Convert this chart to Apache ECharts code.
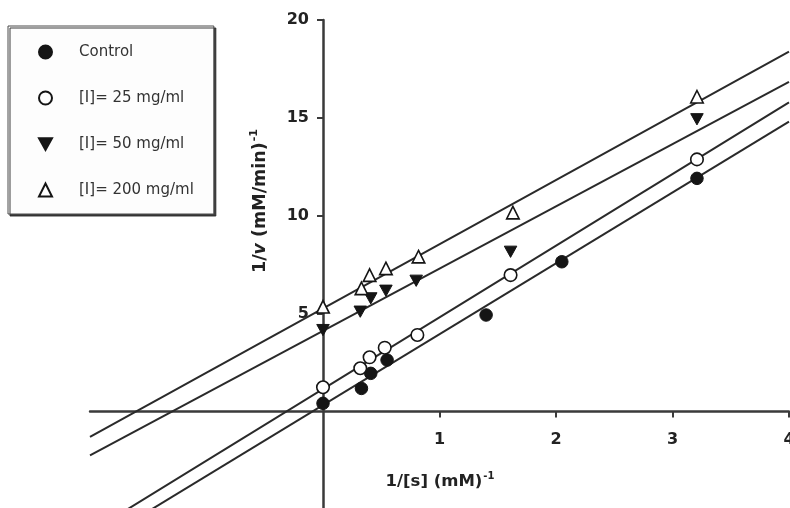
<!DOCTYPE html>
<html>
<head>
<meta charset="utf-8">
<script src="https://cdn.jsdelivr.net/npm/echarts@6/dist/echarts.min.js"></script>
<style>
  html, body { margin: 0; padding: 0; background: #fff; }
  #chart { width: 790px; height: 508px; }
</style>
</head>
<body>
<div id="chart"></div>
<script>
// Lineweaver-Burk data: 1/[S] (mM^-1) and 1/v ((mM/min)^-1) per inhibitor level
const seriesNames = ['Control', '[I]= 25 mg/ml', '[I]= 50 mg/ml', '[I]= 200 mg/ml'];

const xControl = [0, 0.33, 0.41, 0.55, 1.40, 2.05, 3.21];
const yControl = [0.42, 1.18, 1.95, 2.63, 4.93, 7.65, 11.91];

const x25 = [0, 0.32, 0.40, 0.53, 0.81, 1.61, 3.21];
const y25 = [1.24, 2.21, 2.77, 3.26, 3.91, 6.97, 12.88];

const x50 = [0, 0.32, 0.41, 0.54, 0.80, 1.61, 3.21];
const y50 = [4.16, 5.10, 5.78, 6.17, 6.68, 8.16, 14.93];

const x200 = [0, 0.33, 0.40, 0.54, 0.82, 1.63, 3.21];
const y200 = [5.35, 6.29, 6.97, 7.31, 7.91, 10.16, 16.08];

// fitted straight lines: 1/v = slope * 1/[S] + intercept
const fitSlope = [3.62, 3.66, 3.18, 3.28];
const fitIntercept = [0.33, 1.15, 4.12, 5.27];

// axis ranges and labelled ticks
const xRange = [-2, 4];
const yRange = [-5, 20];
const xTicks = [1, 2, 3, 4];
const yTicks = [5, 10, 15, 20];

const xs = [xControl, x25, x50, x200];
const ys = [yControl, y25, y50, y200];

// plot area in pixels
const gridLeft = 90, gridTop = 20, gridWidth = 699, gridHeight = 489.4;
// shift each axis from the plot edge onto the other axis's zero
const xAxisOffset = -gridHeight * (0 - yRange[0]) / (yRange[1] - yRange[0]);
const yAxisOffset = -gridWidth * (0 - xRange[0]) / (xRange[1] - xRange[0]);

const ink = '#151515';
const downTriangle = 'path://M0,0L20,0L10,18Z';
const markerDefs = [
  { symbol: 'circle', itemStyle: { color: ink, borderColor: ink, borderWidth: 1, opacity: 1 } },
  { symbol: 'circle', itemStyle: { color: '#ffffff', borderColor: ink, borderWidth: 1.6, opacity: 1 } },
  { symbol: downTriangle, itemStyle: { color: ink, borderColor: ink, borderWidth: 1, opacity: 1 } },
  { symbol: 'triangle', itemStyle: { color: '#ffffff', borderColor: ink, borderWidth: 1.6, opacity: 1 } }
];

const series = [];
// regression lines first so the markers sit on top
fitSlope.forEach(function (m, i) {
  const b = fitIntercept[i];
  series.push({
    type: 'line',
    name: 'fit' + i,
    data: [[xRange[0], m * xRange[0] + b], [xRange[1], m * xRange[1] + b]],
    showSymbol: false,
    symbol: 'none',
    clip: true,
    silent: true,
    lineStyle: { color: '#2a2a2a', width: 2 },
    z: 2
  });
});
seriesNames.forEach(function (name, i) {
  series.push({
    type: 'scatter',
    name: name,
    data: xs[i].map(function (x, k) { return [x, ys[i][k]]; }),
    symbol: markerDefs[i].symbol,
    symbolSize: 12.5,
    symbolKeepAspect: true,
    itemStyle: markerDefs[i].itemStyle,
    emphasis: { disabled: true },
    z: 5
  });
});

const tickFont = { fontFamily: 'DejaVu Sans', fontWeight: 'bold', fontSize: 16, color: '#222' };
const axisLineStyle = { color: '#3a3a3a', width: 2.5 };

const chart = echarts.init(document.getElementById('chart'), null, { renderer: 'canvas' });
chart.setOption({
  animation: false,
  backgroundColor: '#ffffff',
  grid: {
    left: gridLeft, top: gridTop, width: gridWidth, height: gridHeight,
    containLabel: false, outerBoundsMode: 'none'
  },
  xAxis: {
    type: 'value',
    min: xRange[0],
    max: xRange[1],
    position: 'bottom',
    offset: xAxisOffset,
    splitLine: { show: false },
    axisLine: { show: true, onZero: false, lineStyle: axisLineStyle },
    axisTick: { show: true, customValues: xTicks, length: 6, lineStyle: { color: '#3a3a3a', width: 2 } },
    axisLabel: Object.assign({ customValues: xTicks, margin: 20 }, tickFont)
  },
  yAxis: {
    type: 'value',
    min: yRange[0],
    max: yRange[1],
    position: 'left',
    offset: yAxisOffset,
    splitLine: { show: false },
    axisLine: { show: true, onZero: false, lineStyle: axisLineStyle },
    axisTick: { show: true, customValues: yTicks, length: 6, lineStyle: { color: '#3a3a3a', width: 2 } },
    axisLabel: Object.assign({ customValues: yTicks, margin: 14 }, tickFont)
  },
  legend: {
    data: seriesNames,
    orient: 'vertical',
    left: 8,
    top: 26,
    padding: [18, 20, 16, 30],
    itemGap: 30,
    itemWidth: 13,
    itemHeight: 13,
    backgroundColor: '#fdfdfd',
    borderColor: '#4a4a4a',
    borderWidth: 1,
    shadowColor: 'rgba(40,40,40,0.9)',
    shadowOffsetX: 2,
    shadowOffsetY: 2,
    shadowBlur: 0,
    textStyle: {
      fontFamily: 'DejaVu Sans',
      fontSize: 15,
      color: '#333',
      lineHeight: 16,
      padding: [0, 0, 0, 22]
    }
  },
  graphic: [
    {
      type: 'text',
      x: 440,
      y: 482,
      style: {
        text: '{n|1/[s] (mM)}{s|-1}',
        align: 'center',
        verticalAlign: 'middle',
        rich: {
          n: { fontFamily: 'DejaVu Sans', fontWeight: 'bold', fontSize: 16.5, fill: '#222', lineHeight: 20 },
          s: { fontFamily: 'DejaVu Sans', fontWeight: 'bold', fontSize: 10, fill: '#222', lineHeight: 20, padding: [0, 0, 12, 1] }
        }
      },
      z: 10
    },
    {
      type: 'text',
      x: 260,
      y: 201,
      rotation: Math.PI / 2,
      style: {
        text: '{n|1/}{i|v}{n| (mM/min)}{s|-1}',
        align: 'center',
        verticalAlign: 'middle',
        rich: {
          n: { fontFamily: 'DejaVu Sans', fontWeight: 'bold', fontSize: 17.5, fill: '#222', lineHeight: 20 },
          i: { fontFamily: 'DejaVu Sans', fontWeight: 'bold', fontStyle: 'italic', fontSize: 17.5, fill: '#222', lineHeight: 20 },
          s: { fontFamily: 'DejaVu Sans', fontWeight: 'bold', fontSize: 11, fill: '#222', lineHeight: 20, padding: [0, 0, 12, 1] }
        }
      },
      z: 10
    }
  ],
  series: series
});
</script>
</body>
</html>
